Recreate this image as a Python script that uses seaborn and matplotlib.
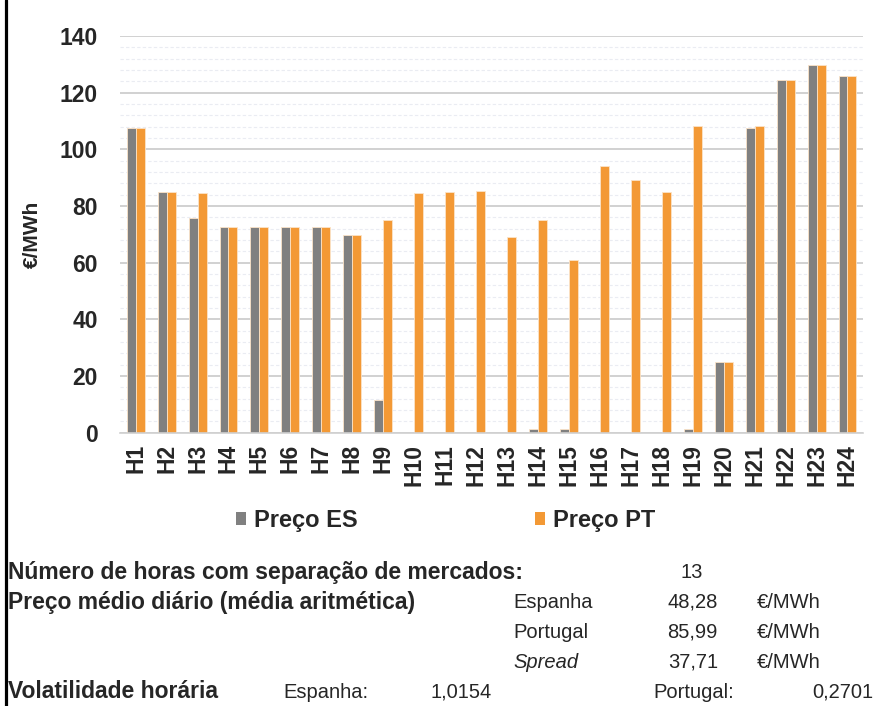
import matplotlib
matplotlib.use("Agg")
import matplotlib.pyplot as plt
import pandas as pd
import seaborn as sns
from matplotlib.lines import Line2D
from matplotlib.patches import Patch
from matplotlib.ticker import MultipleLocator

# dados horarios (EUR/MWh)
horas = ["H%d" % i for i in range(1, 25)]
preco_es = [107.5, 85.0, 75.8, 72.6, 72.6, 72.6, 72.6, 69.8, 11.6, 0, 0, 0,
            0, 1.5, 1.5, 0, 0, 0, 1.5, 25.0, 107.5, 124.5, 129.8, 125.8]
preco_pt = [107.5, 85.0, 84.6, 72.6, 72.6, 72.6, 72.6, 69.8, 75.1, 84.6, 85.0, 85.3,
            69.1, 75.1, 61.0, 94.2, 89.2, 85.0, 108.2, 25.0, 108.3, 124.5, 129.8, 125.8]
series = ["Preço ES", "Preço PT"]
cores = ["#808080", "#F39935"]

df = pd.DataFrame({
    "Hora": horas * 2,
    "Preco": preco_es + preco_pt,
    "Serie": [series[0]] * 24 + [series[1]] * 24,
})

sns.set_style("white")
plt.rcParams["font.family"] = ["Liberation Sans", "DejaVu Sans"]

fig = plt.figure(figsize=(8.77, 7.06), dpi=100)
ax = fig.add_axes([0.137, 0.387, 0.847, 0.562])

sns.barplot(data=df, x="Hora", y="Preco", hue="Serie", hue_order=series,
            palette=cores, width=0.58, gap=0, saturation=1, ax=ax,
            edgecolor="#fbe3c8", linewidth=0.6, legend=False)

ax.set_ylim(0, 140)
ax.set_xlim(-0.5, 23.5)
ax.yaxis.set_major_locator(MultipleLocator(20))
ax.yaxis.set_minor_locator(MultipleLocator(4))
ax.grid(axis="y", which="major", color="#c9c9c9", linewidth=1.2)
ax.grid(axis="y", which="minor", color="#eaecf2", linewidth=0.8, linestyle=(0, (3, 2)))
ax.set_axisbelow(True)
for s in ["top", "right", "left"]:
    ax.spines[s].set_visible(False)
ax.spines["bottom"].set_color("#d0d0d0")
ax.spines["bottom"].set_linewidth(1.2)

ax.tick_params(axis="both", which="both", length=0)
ax.tick_params(axis="y", labelsize=16.5, pad=16)
ax.tick_params(axis="x", labelsize=16.5, pad=8, labelrotation=90)
for t in ax.get_xticklabels() + ax.get_yticklabels():
    t.set_fontweight("bold")
ax.set_xlabel("")
ax.set_ylabel("€/MWh", fontsize=15, fontweight="bold")
ax.yaxis.set_label_coords(-0.105, 0.5)

handles = [Patch(facecolor=c, edgecolor="none") for c in cores]
fig.legend(handles, series, loc="center", bbox_to_anchor=(0.508, 0.263), ncol=2,
           frameon=False, prop={"size": 17, "weight": "bold"},
           handlelength=0.42, handleheight=0.42, handletextpad=0.34, columnspacing=7.5)

# borda esquerda
fig.add_artist(Line2D([0.0063, 0.0063], [0, 1], color="black", linewidth=2.3))

# tabela de resumo
def txt(x, y, s, bold=False, **kw):
    if bold:
        fig.text(x / 877, 1 - y / 706, s, fontsize=16.5, fontweight="bold",
                 va="center", **kw)
    else:
        fig.text(x / 877, 1 - y / 706, s, fontsize=14.5, va="center", **kw)

txt(8, 572, "Número de horas com separação de mercados:", bold=True)
txt(692, 572, "13", ha="center")
txt(8, 602, "Preço médio diário (média aritmética)", bold=True)
txt(513, 602, "Espanha")
txt(718, 602, "48,28", ha="right")
txt(757, 602, "€/MWh")
txt(513, 632, "Portugal")
txt(718, 632, "85,99", ha="right")
txt(757, 632, "€/MWh")
txt(513, 662, "Spread", style="italic")
txt(718, 662, "37,71", ha="right")
txt(757, 662, "€/MWh")
txt(8, 692, "Volatilidade horária", bold=True)
txt(283, 692, "Espanha:")
txt(430, 692, "1,0154")
txt(653, 692, "Portugal:")
txt(873, 692, "0,2701", ha="right")

fig.savefig("out.png", dpi=100)
